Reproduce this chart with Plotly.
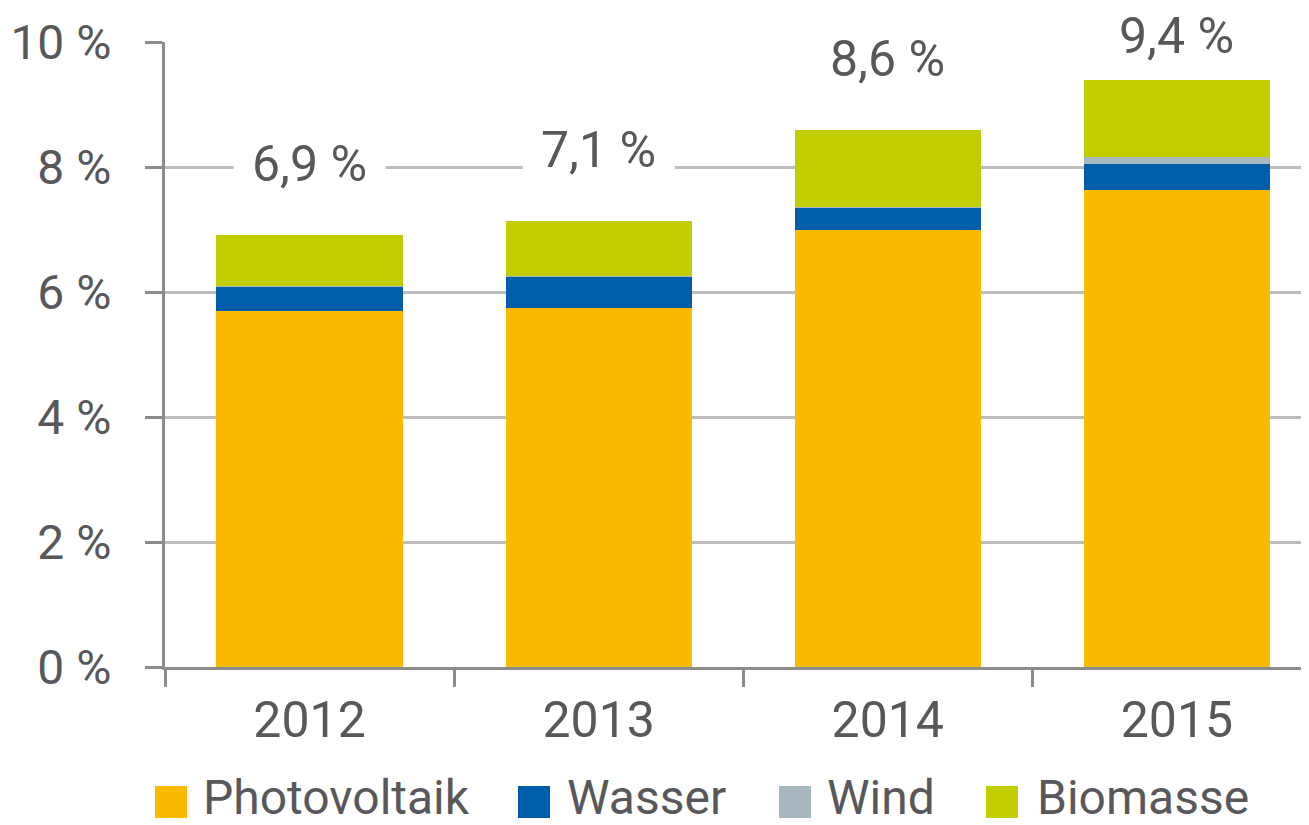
import plotly.graph_objects as go

# ---------------- data ----------------
years = ["2012", "2013", "2014", "2015"]
photovoltaik = [5.70, 5.74, 6.99, 7.64]
wasser = [0.38, 0.50, 0.36, 0.41]
wind = [0.01, 0.01, 0.01, 0.11]
biomasse = [0.82, 0.89, 1.23, 1.23]
series_names = ["Photovoltaik", "Wasser", "Wind", "Biomasse"]
y_ticks = [0, 2, 4, 6, 8, 10]
y_tick_labels = [f"{v} %" for v in y_ticks]

# ---------------- style ----------------
colors = ["#FBB900", "#005DA9", "#A7B8BE", "#C1CD00"]
FONT = "Roboto, sans-serif"
TXT = "#58585A"
AXIS = "#8C8C8C"
GRID = "#BDBDBD"
OFF = 8  # page body margin offset
W, H = 1309, 825
L, R, T, B = 165 - OFF, OFF, 42 - OFF, 825 - 667 + OFF
Y_MAX = 10
PX_PER_UNIT = (H - T - B) / Y_MAX

series = [photovoltaik, wasser, wind, biomasse]
totals = [sum(v) for v in zip(*series)]

fig = go.Figure()
for name, vals, col in zip(series_names, series, colors):
    fig.add_trace(go.Bar(x=years, y=vals, name=name, marker_color=col,
                         marker_line_width=0, width=0.644, showlegend=False))

def px_x(p):
    return (p - OFF - L) / (W - L - R)

def px_y(p):
    return (H - B - (p - OFF)) / (H - T - B)

shapes = []
annotations = []
for i, (yr, tot) in enumerate(zip(years, totals)):
    # label sits ~71 px above the bar, but never higher than just above the top gridline
    shift = min(71, (Y_MAX + 0.1 - tot) * PX_PER_UNIT)
    shapes.append(dict(type="rect", layer="between", xref="x", yref="y",
                       xsizemode="pixel", ysizemode="pixel",
                       xanchor=i, yanchor=tot, x0=-76, x1=76,
                       y0=shift - 40, y1=shift + 40,
                       fillcolor="white", line_width=0))
    annotations.append(dict(x=i, y=tot, xref="x", yref="y", yshift=shift,
                            text=f"{tot:.1f}".replace(".", ",") + " %",
                            showarrow=False, xanchor="center", yanchor="middle",
                            font=dict(family=FONT, size=50, color=TXT)))

sw_x = [155, 518, 779, 986]
tx_x = [203, 567, 827, 1037]
for name, col, sx, tx in zip(series_names, colors, sw_x, tx_x):
    shapes.append(dict(type="rect", xref="paper", yref="paper",
                       x0=px_x(sx), x1=px_x(sx + 32), y0=px_y(786), y1=px_y(818),
                       fillcolor=col, line_width=0))
    annotations.append(dict(x=px_x(tx - 2), y=px_y(797), xref="paper", yref="paper",
                            text=name, showarrow=False, xanchor="left", yanchor="middle",
                            font=dict(family=FONT, size=48, color=TXT)))

fig.update_layout(
    width=W, height=H, margin=dict(l=L, r=R, t=T, b=B, autoexpand=False),
    barmode="stack",
    plot_bgcolor="white", paper_bgcolor="white",
    font=dict(family=FONT, size=50, color=TXT),
    shapes=shapes, annotations=annotations,
    showlegend=False,
)
fig.update_yaxes(range=[0, Y_MAX], tickmode="array", tickvals=y_ticks, ticktext=y_tick_labels,
                 showgrid=True, gridcolor=GRID, gridwidth=2.5,
                 showline=True, linecolor=AXIS, linewidth=3,
                 ticks="outside", ticklen=17, tickwidth=3, tickcolor=AXIS,
                 zeroline=False, ticklabelstandoff=24,
                 tickfont=dict(family=FONT, size=48, color=TXT))
fig.update_xaxes(type="category", range=[-0.5, 3.457],
                 showgrid=False, showline=True, linecolor=AXIS, linewidth=3,
                 ticks="outside", tickson="boundaries", ticklen=17, tickwidth=3,
                 tickcolor=AXIS, ticklabelstandoff=7,
                 tickfont=dict(family=FONT, size=50, color=TXT))

fig.write_html("out.html")
